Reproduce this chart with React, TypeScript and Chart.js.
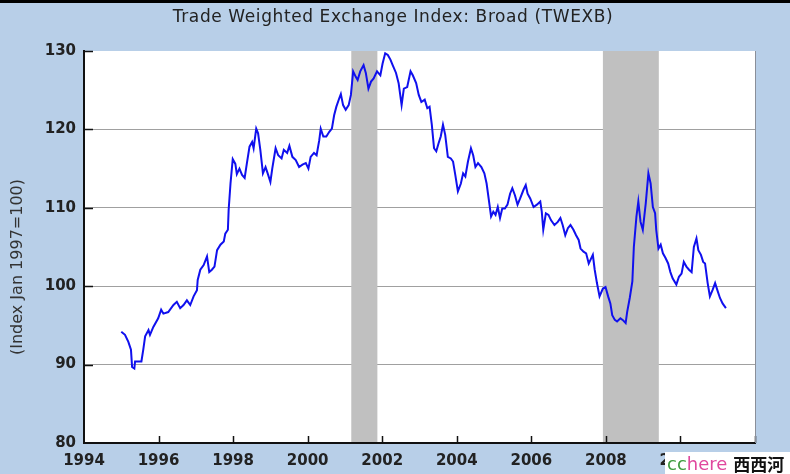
import React, { useEffect, useRef } from "react";
import { Chart, registerables } from "chart.js";

Chart.register(...registerables);

const TITLE = "Trade Weighted Exchange Index: Broad (TWEXB)";
const Y_TITLE = "(Index Jan 1997=100)";
const xTickValues = [1994, 1996, 1998, 2000, 2002, 2004, 2006, 2008, 2010, 2012];
const yTickValues = [80, 90, 100, 110, 120, 130];
const recessionStart = [2001.17, 2007.92];
const recessionEnd = [2001.87, 2009.42];

const dates = [
  1995.0, 1995.1, 1995.19, 1995.26, 1995.29, 1995.35, 1995.37, 1995.46, 1995.54, 1995.59,
  1995.64, 1995.73, 1995.77, 1995.86, 1995.99, 1996.07, 1996.13, 1996.26, 1996.4, 1996.49,
  1996.58, 1996.67, 1996.76, 1996.85, 1996.94, 1997.03, 1997.05, 1997.12, 1997.21, 1997.3,
  1997.36, 1997.43, 1997.5, 1997.57, 1997.66, 1997.75, 1997.79, 1997.86, 1997.88, 1997.93,
  1997.99, 1998.06, 1998.1, 1998.17, 1998.24, 1998.31, 1998.37, 1998.44, 1998.51, 1998.55,
  1998.62, 1998.67, 1998.73, 1998.8, 1998.87, 1998.94, 1999.0, 1999.05, 1999.14, 1999.21,
  1999.3, 1999.36, 1999.45, 1999.51, 1999.59, 1999.68, 1999.77, 1999.86, 1999.95, 2000.02,
  2000.08, 2000.17, 2000.24, 2000.31, 2000.35, 2000.42, 2000.5, 2000.58, 2000.65, 2000.71,
  2000.77, 2000.85, 2000.89, 2000.95, 2001.02, 2001.1, 2001.16, 2001.22, 2001.29, 2001.34,
  2001.41, 2001.5, 2001.56, 2001.63, 2001.7, 2001.77, 2001.86, 2001.95, 2002.01, 2002.08,
  2002.15, 2002.22, 2002.28, 2002.37, 2002.44, 2002.52, 2002.58, 2002.67, 2002.76, 2002.82,
  2002.91, 2002.98, 2003.05, 2003.14, 2003.21, 2003.27, 2003.33, 2003.39, 2003.45, 2003.51,
  2003.57, 2003.63, 2003.69, 2003.76, 2003.84, 2003.9, 2003.96, 2004.03, 2004.11, 2004.17,
  2004.23, 2004.3, 2004.38, 2004.44, 2004.5, 2004.57, 2004.66, 2004.74, 2004.8, 2004.86,
  2004.92, 2004.98, 2005.04, 2005.1, 2005.16, 2005.22, 2005.29, 2005.36, 2005.43, 2005.49,
  2005.56, 2005.63, 2005.7, 2005.79, 2005.85, 2005.9, 2005.97, 2006.06, 2006.15, 2006.24,
  2006.28, 2006.32, 2006.39, 2006.46, 2006.53, 2006.62, 2006.71, 2006.78, 2006.84, 2006.91,
  2006.98, 2007.05, 2007.13, 2007.2, 2007.27, 2007.32, 2007.4, 2007.47, 2007.54, 2007.58,
  2007.65, 2007.7, 2007.76, 2007.83, 2007.92, 2007.99, 2008.06, 2008.12, 2008.17, 2008.24,
  2008.3, 2008.39, 2008.45, 2008.53, 2008.57, 2008.64, 2008.71, 2008.75, 2008.82, 2008.87,
  2008.93, 2008.99, 2009.07, 2009.14, 2009.2, 2009.26, 2009.32, 2009.35, 2009.41, 2009.47,
  2009.53, 2009.6, 2009.67, 2009.73, 2009.79, 2009.89, 2009.96, 2010.03, 2010.09, 2010.16,
  2010.23, 2010.3, 2010.36, 2010.43, 2010.48, 2010.55, 2010.61, 2010.66, 2010.73, 2010.79,
  2010.86, 2010.93, 2010.99, 2011.06, 2011.13, 2011.22,
];

const values = [
  94.2, 93.8, 92.9, 91.9, 89.7, 89.5, 90.4, 90.4, 90.4, 91.9,
  93.6, 94.4, 93.8, 94.8, 95.9, 97.0, 96.5, 96.7, 97.6, 98.0,
  97.2, 97.6, 98.2, 97.6, 98.7, 99.5, 100.8, 102.1, 102.7, 103.8,
  101.8, 102.1, 102.5, 104.6, 105.3, 105.7, 106.7, 107.2, 109.7, 113.1,
  116.2, 115.6, 114.3, 115.0, 114.2, 113.8, 115.7, 117.8, 118.4, 117.6,
  120.1, 119.5, 117.4, 114.4, 115.2, 114.2, 113.3, 115.0, 117.6, 116.7,
  116.3, 117.4, 117.0, 117.9, 116.5, 116.1, 115.2, 115.5, 115.7, 115.0,
  116.5, 117.0, 116.7, 118.6, 120.1, 119.1, 119.1, 119.7, 120.1, 121.8,
  122.9, 124.0, 124.5, 123.1, 122.5, 123.1, 124.4, 127.4, 126.7, 126.3,
  127.4, 128.2, 127.2, 125.2, 126.1, 126.5, 127.4, 126.9, 128.4, 129.7,
  129.5, 128.9, 128.2, 127.2, 125.9, 123.1, 125.2, 125.4, 127.4, 126.9,
  125.9, 124.4, 123.5, 123.8, 122.7, 122.9, 120.6, 117.6, 117.2, 118.2,
  119.1, 120.6, 119.3, 116.5, 116.3, 115.9, 114.2, 112.1, 113.1, 114.4,
  114.0, 115.9, 117.6, 116.7, 115.2, 115.7, 115.2, 114.4, 113.1, 111.0,
  108.9, 109.5, 109.1, 110.1, 108.7, 109.9, 109.9, 110.4, 111.8, 112.5,
  111.6, 110.4, 111.2, 112.3, 112.9, 111.8, 111.2, 110.1, 110.4, 110.8,
  109.5, 107.2, 109.3, 109.1, 108.4, 107.8, 108.2, 108.7, 107.8, 106.5,
  107.4, 107.8, 107.2, 106.5, 105.9, 104.8, 104.4, 104.2, 102.9, 103.3,
  104.0, 102.1, 100.4, 98.7, 99.7, 99.9, 98.7, 97.8, 96.3, 95.7,
  95.5, 95.9, 95.7, 95.3, 96.7, 98.5, 100.6, 105.0, 108.9, 110.8,
  108.2, 107.2, 110.6, 114.4, 113.1, 110.1, 109.3, 107.2, 104.8, 105.3,
  104.2, 103.6, 102.9, 101.8, 101.0, 100.2, 101.2, 101.6, 103.1, 102.5,
  102.1, 101.8, 105.0, 106.1, 104.6, 104.0, 103.1, 102.9, 100.4, 98.7,
  99.5, 100.4, 99.5, 98.5, 97.8, 97.2,
];

const BG = "#b8cfe8";
const TEXT = "#222222";

const decor = {
  id: "decor",
  beforeDraw(chart: any) {
    const { ctx, chartArea: a, width, height } = chart;
    ctx.save();
    ctx.fillStyle = BG;
    ctx.fillRect(0, 0, width, height);
    ctx.fillStyle = "#000";
    ctx.fillRect(0, 0, width, 3);
    ctx.fillStyle = "#fff";
    ctx.fillRect(a.left, a.top, a.right - a.left, a.bottom - a.top);
    ctx.fillStyle = TEXT;
    ctx.font = '17px "DejaVu Sans"';
    ctx.textAlign = "center";
    ctx.textBaseline = "middle";
    try {
      (ctx as any).letterSpacing = "0.6px";
    } catch (e) {}
    ctx.fillText(TITLE, 393, 18);
    try {
      (ctx as any).letterSpacing = "0px";
    } catch (e) {}
    ctx.translate(18, 267);
    ctx.rotate(-Math.PI / 2);
    ctx.font = '16px "DejaVu Sans"';
    ctx.fillStyle = "#333";
    ctx.fillText(Y_TITLE, 0, 0);
    ctx.restore();
  },
  beforeDatasetsDraw(chart: any) {
    const { ctx, chartArea: a, scales } = chart;
    ctx.save();
    ctx.fillStyle = "#c0c0c0";
    for (let i = 0; i < recessionStart.length; i++) {
      const x0 = scales.x.getPixelForValue(recessionStart[i]);
      const x1 = scales.x.getPixelForValue(recessionEnd[i]);
      ctx.fillRect(x0, a.top, x1 - x0, a.bottom - a.top - 1);
    }
    ctx.restore();
  },
  afterDraw(chart: any) {
    const { ctx, chartArea: a, scales } = chart;
    ctx.save();
    ctx.strokeStyle = "#111";
    ctx.lineWidth = 1.5;
    ctx.beginPath();
    for (const v of xTickValues) {
      if (v === 1994) continue;
      const x = Math.round(scales.x.getPixelForValue(v)) + 0.5;
      ctx.moveTo(x, a.bottom);
      ctx.lineTo(x, a.bottom - 7);
    }
    for (const v of yTickValues) {
      if (v === 80) continue;
      const y = Math.round(scales.y.getPixelForValue(v)) + 0.5;
      ctx.moveTo(a.left, y);
      ctx.lineTo(a.left + 9, y);
    }
    ctx.stroke();
    ctx.strokeStyle = "#8a8f99";
    ctx.lineWidth = 1;
    ctx.beginPath();
    ctx.moveTo(a.right + 0.5, a.top);
    ctx.lineTo(a.right + 0.5, a.bottom);
    ctx.stroke();
    ctx.restore();
  },
};

export default function App() {
  const ref = useRef<HTMLCanvasElement>(null);
  useEffect(() => {
    document.body.style.margin = "0";
    const tickFont = { family: "DejaVu Sans", size: 15, weight: "bold" as const };
    const chart = new Chart(ref.current as HTMLCanvasElement, {
      type: "line",
      data: {
        datasets: [
          {
            data: dates.map((d, i) => ({ x: d, y: values[i] })),
            borderColor: "#1010ee",
            borderWidth: 2,
            pointRadius: 0,
            tension: 0,
            fill: false,
          },
        ],
      },
      options: {
        responsive: false,
        animation: false,
        devicePixelRatio: 1,
        layout: { padding: { top: 51, right: 35, bottom: 0, left: 0 } },
        plugins: {
          legend: { display: false },
          tooltip: { enabled: false },
          title: { display: false },
        },
        scales: {
          x: {
            type: "linear",
            min: 1994,
            max: 2012,
            afterBuildTicks: (s: any) => {
              s.ticks = xTickValues.map((v) => ({ value: v }));
            },
            afterFit: (s: any) => {
              s.height = 31;
            },
            ticks: {
              autoSkip: false,
              maxRotation: 0,
              padding: 9,
              color: TEXT,
              font: tickFont,
              callback: (v: any) => String(v),
            },
            grid: { display: false, drawTicks: false },
            border: { display: true, color: "#111", width: 2 },
          },
          y: {
            min: 80,
            max: 130,
            afterBuildTicks: (s: any) => {
              s.ticks = yTickValues.map((v) => ({ value: v }));
            },
            afterFit: (s: any) => {
              s.width = 84;
            },
            ticks: {
              padding: 8,
              color: TEXT,
              font: tickFont,
              callback: (v: any) => String(v),
            },
            grid: {
              drawTicks: false,
              lineWidth: 1,
              color: (c: any) =>
                c.tick && (c.tick.value === 80 || c.tick.value === 130)
                  ? "rgba(0,0,0,0)"
                  : "#a0a0a0",
            },
            border: { display: true, color: "#111", width: 2 },
          },
        },
      },
      plugins: [decor],
    });
    return () => chart.destroy();
  }, []);

  return (
    <div style={{ position: "relative", width: 790, height: 474, overflow: "hidden" }}>
      <canvas
        ref={ref}
        width={790}
        height={474}
        style={{ display: "block", width: 790, height: 474 }}
      />
      <div
        style={{
          position: "absolute",
          left: 665,
          top: 452,
          width: 125,
          height: 22,
          background: "#fff",
          display: "flex",
          alignItems: "center",
          whiteSpace: "nowrap",
          paddingLeft: 2,
          boxSizing: "border-box",
        }}
      >
        <span style={{ fontFamily: '"DejaVu Sans"', fontSize: 18, color: "#3c9a3c" }}>cc</span>
        <span style={{ fontFamily: '"DejaVu Sans"', fontSize: 18, color: "#e0479e" }}>here</span>
        <span
          style={{
            fontFamily: '"Noto Sans CJK SC"',
            fontSize: 17,
            fontWeight: 700,
            color: "#111",
            marginLeft: 6,
          }}
        >
          西西河
        </span>
      </div>
    </div>
  );
}
